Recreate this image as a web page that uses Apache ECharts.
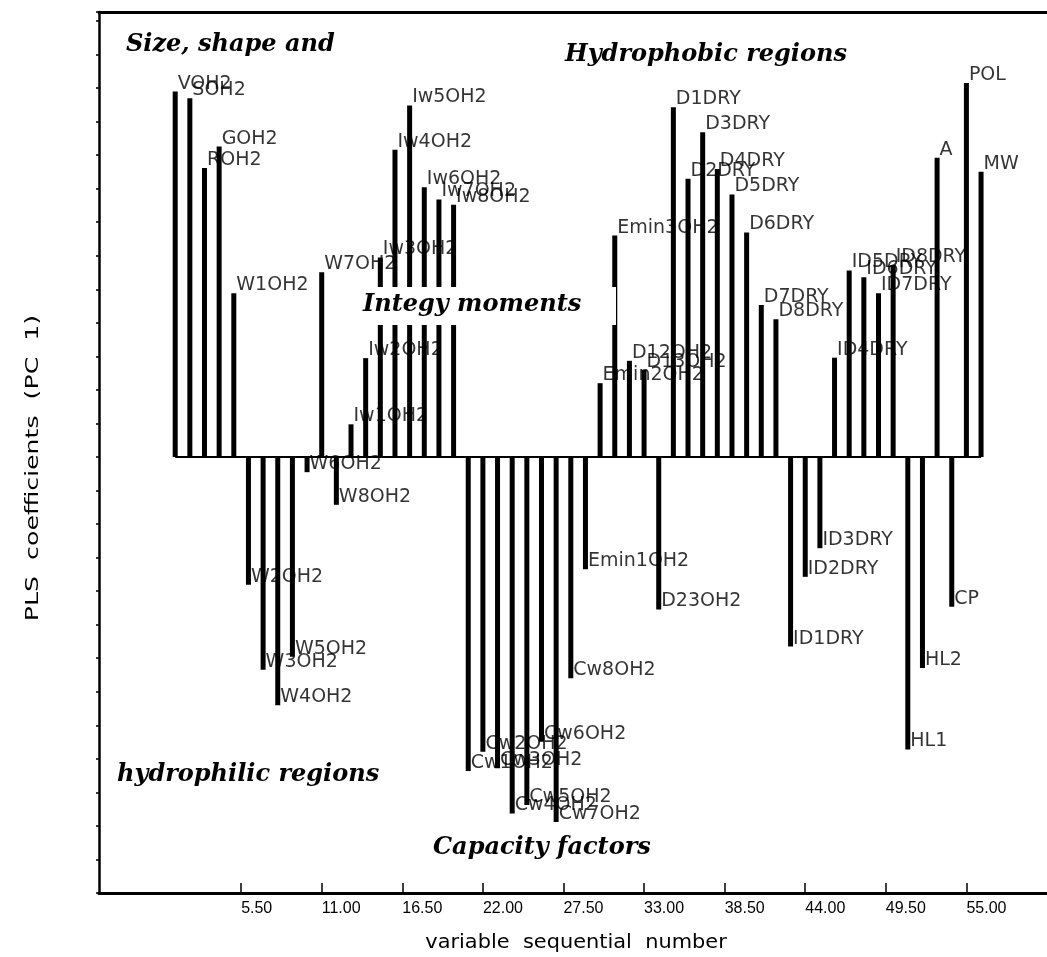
<!DOCTYPE html>
<html>
<head>
<meta charset="utf-8">
<script src="https://cdn.jsdelivr.net/npm/echarts@6/dist/echarts.min.js"></script>
<style>
  html, body { margin: 0; padding: 0; background: #ffffff; }
  #chart { width: 1047px; height: 957px; }
</style>
</head>
<body>
<div id="chart"></div>
<script>
// Descriptor names, in sequential order
const variableNames = [
  'VOH2', 'SOH2', 'ROH2', 'GOH2', 'W1OH2', 'W2OH2', 'W3OH2', 'W4OH2',
  'W5OH2', 'W6OH2', 'W7OH2', 'W8OH2', 'Iw1OH2', 'Iw2OH2', 'Iw3OH2', 'Iw4OH2',
  'Iw5OH2', 'Iw6OH2', 'Iw7OH2', 'Iw8OH2', 'Cw1OH2', 'Cw2OH2', 'Cw3OH2', 'Cw4OH2',
  'Cw5OH2', 'Cw6OH2', 'Cw7OH2', 'Cw8OH2', 'Emin1OH2', 'Emin2OH2', 'Emin3OH2', 'D12OH2',
  'D13OH2', 'D23OH2', 'D1DRY', 'D2DRY', 'D3DRY', 'D4DRY', 'D5DRY', 'D6DRY',
  'D7DRY', 'D8DRY', 'ID1DRY', 'ID2DRY', 'ID3DRY', 'ID4DRY', 'ID5DRY', 'ID6DRY',
  'ID7DRY', 'ID8DRY', 'HL1', 'HL2', 'A', 'CP', 'POL', 'MW'
];

// Variable sequential numbers
const seqNumbers = [
  1, 2, 3, 4, 5, 6, 7, 8, 9, 10, 11, 12, 13, 14, 15, 16, 17, 18, 19, 20,
  21, 22, 23, 24, 25, 26, 27, 28, 29, 30, 31, 32, 33, 34, 35, 36, 37, 38, 39, 40,
  41, 42, 43, 44, 45, 46, 47, 48, 49, 50, 51, 52, 53, 54, 55, 56
];

// PLS coefficients on the first component
const plsCoefficients = [
  0.0817, 0.0802, 0.0646, 0.0694, 0.0366, -0.0286, -0.0476, -0.0555,
  -0.0447, -0.0034, 0.0413, -0.0107, 0.0073, 0.0221, 0.0446, 0.0687,
  0.0786, 0.0603, 0.0576, 0.0564, -0.0702, -0.0659, -0.0696, -0.0797,
  -0.0778, -0.0637, -0.0816, -0.0495, -0.0251, 0.0165, 0.0495, 0.0215,
  0.0195, -0.0341, 0.0782, 0.0622, 0.0726, 0.0644, 0.0587, 0.0502,
  0.0340, 0.0308, -0.0424, -0.0268, -0.0204, 0.0222, 0.0417, 0.0402,
  0.0366, 0.0429, -0.0654, -0.0472, 0.0669, -0.0335, 0.0836, 0.0638
];

// Tick positions on the sequential-number axis
const xTickValues = [5.5, 11, 16.5, 22, 27.5, 33, 38.5, 44, 49.5, 55];

// Descriptor-group captions
const groupCaptions = [
  'Size, shape and',
  'Hydrophobic regions',
  'Integy moments',
  'hydrophilic regions',
  'Capacity factors'
];

const xAxisTitle = 'variable  sequential  number';
const yAxisTitle = 'PLS  coefficients  (PC  1)';

const barData = seqNumbers.map((n, i) => [n, plsCoefficients[i]]);
const labelData = seqNumbers.map((n, i) => [n, plsCoefficients[i], variableNames[i]]);

const captionFont = 'italic bold 24px "DejaVu Serif"';

const chart = echarts.init(document.getElementById('chart'), null, { renderer: 'canvas' });

const xRange = { min: -4.2, max: 60.5 };

chart.setOption({
  animation: false,
  backgroundColor: '#ffffff',
  grid: { left: 99, top: 12, right: 0, bottom: 64, containLabel: false },
  xAxis: [
    {
      type: 'value',
      position: 'bottom',
      min: xRange.min,
      max: xRange.max,
      axisLine: { show: true, onZero: false, lineStyle: { color: '#000', width: 3 } },
      axisTick: {
        show: true, inside: true, length: 10,
        customValues: xTickValues,
        lineStyle: { color: '#000', width: 1.5 }
      },
      axisLabel: {
        show: true,
        customValues: xTickValues,
        formatter: v => Number(v).toFixed(2),
        align: 'left',
        margin: 8,
        color: '#000',
        fontFamily: '"Liberation Sans", Arial, sans-serif',
        fontSize: 16
      },
      splitLine: { show: false }
    },
    {
      type: 'value',
      position: 'top',
      min: xRange.min,
      max: xRange.max,
      axisLine: { show: true, onZero: false, lineStyle: { color: '#000', width: 3 } },
      axisTick: { show: false },
      axisLabel: { show: false },
      splitLine: { show: false }
    }
  ],
  yAxis: {
    type: 'value',
    min: -0.0975,
    max: 0.0995,
    interval: 0.0075,
    axisLine: { show: true, onZero: false, lineStyle: { color: '#000', width: 2.5 } },
    axisTick: { show: true, inside: false, length: 3, lineStyle: { color: '#000', width: 1.5 } },
    axisLabel: { show: false },
    splitLine: { show: false }
  },
  series: [
    {
      type: 'bar',
      xAxisIndex: 0,
      data: barData,
      barWidth: 5,
      itemStyle: { color: '#000' },
      z: 2,
      markLine: {
        silent: true,
        symbol: 'none',
        label: { show: false },
        lineStyle: { color: '#000', width: 2, type: 'solid' },
        data: [[
          { coord: [seqNumbers[0], 0] },
          { coord: [seqNumbers[seqNumbers.length - 1], 0] }
        ]]
      }
    },
    {
      type: 'scatter',
      xAxisIndex: 0,
      data: labelData,
      symbolSize: 1,
      itemStyle: { color: 'transparent' },
      z: 3,
      label: {
        show: true,
        position: 'right',
        distance: 2,
        offset: [0, -8],
        formatter: p => p.data[2],
        color: '#000',
        fontFamily: '"DejaVu Sans", sans-serif',
        fontSize: 19
      }
    }
  ],
  graphic: [
    {
      type: 'text', z: 100,
      style: { x: 126, y: 45, text: groupCaptions[0], font: captionFont, fill: '#000', verticalAlign: 'middle' }
    },
    {
      type: 'text', z: 100,
      style: { x: 565, y: 55, text: groupCaptions[1], font: captionFont, fill: '#000', verticalAlign: 'middle' }
    },
    {
      type: 'rect', z: 99,
      shape: { x: 358, y: 287, width: 258, height: 38 },
      style: { fill: '#ffffff' }
    },
    {
      type: 'text', z: 100,
      style: { x: 363, y: 305, text: groupCaptions[2], font: captionFont, fill: '#000', verticalAlign: 'middle' }
    },
    {
      type: 'text', z: 100,
      style: { x: 117, y: 775, text: groupCaptions[3], font: captionFont, fill: '#000', verticalAlign: 'middle' }
    },
    {
      type: 'text', z: 100,
      style: { x: 433, y: 848, text: groupCaptions[4], font: captionFont, fill: '#000', verticalAlign: 'middle' }
    },
    {
      type: 'text', z: 100,
      x: 33, y: 468, rotation: Math.PI / 2, scaleX: 1.4,
      style: { x: 0, y: 0, text: yAxisTitle, font: '18px "DejaVu Sans"', fill: '#000', align: 'center', verticalAlign: 'middle' }
    },
    {
      type: 'text', z: 100,
      x: 576, y: 943, scaleX: 1.1,
      style: { x: 0, y: 0, text: xAxisTitle, font: '19px "DejaVu Sans"', fill: '#000', align: 'center', verticalAlign: 'middle' }
    }
  ]
});
</script>
</body>
</html>
